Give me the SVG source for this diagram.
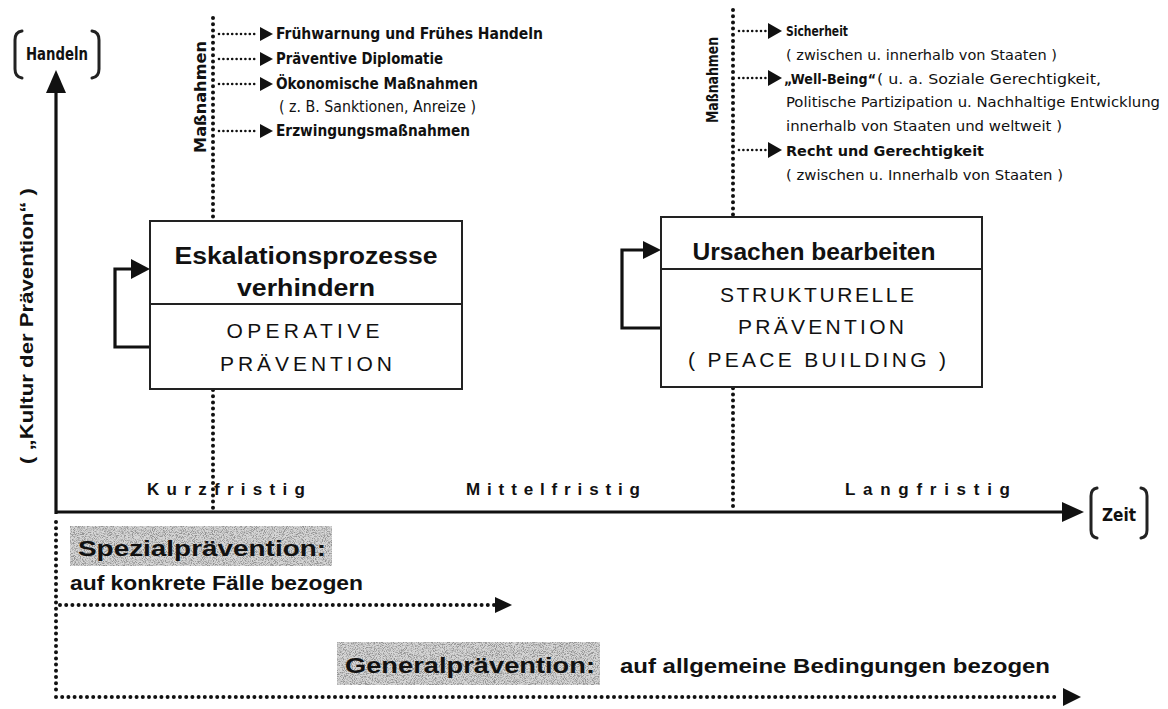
<svg xmlns="http://www.w3.org/2000/svg" width="1168" height="709" viewBox="0 0 1168 709">
<style>
.dot{fill:none;stroke:#111;stroke-width:4;stroke-linecap:round;stroke-dasharray:0 6.2}
.sdot{fill:none;stroke:#111;stroke-width:2.6;stroke-linecap:round;stroke-dasharray:0 4.4}
.solid{fill:none;stroke:#111;stroke-width:3.2}
.head{fill:#111}
.box{fill:#fff;stroke:#222;stroke-width:2}
.cond{font-family:"Liberation Sans Narrow","DejaVu Sans Condensed","Liberation Sans",sans-serif;fill:#111}
.b{font-weight:bold}
.sans{font-family:"Liberation Sans",Arial,sans-serif;fill:#111}
.brk{fill:none;stroke:#222;stroke-width:3;stroke-linecap:round}
</style>
<defs>
<filter id="noise" x="0" y="0" width="100%" height="100%">
<feTurbulence type="fractalNoise" baseFrequency="1.1" numOctaves="2" seed="7" result="t"/>
<feColorMatrix in="t" type="matrix" values="0 0 0 0 0.3  0 0 0 0 0.3  0 0 0 0 0.3  4 0 0 0 -1.7" result="n"/>
<feFlood flood-color="#d6d6d6" result="f"/>
<feComposite in="n" in2="f" operator="over" result="c"/>
<feComposite in="c" in2="SourceGraphic" operator="in"/>
</filter>
</defs>
<rect width="1168" height="709" fill="#fff"/>

<g id="connectors">
<line class="solid" x1="56" y1="514" x2="56" y2="88"/>
<polygon class="head" points="56,70 46,93 66,93"/>
<line class="solid" x1="55" y1="512" x2="1064" y2="512"/>
<polygon class="head" points="1084,512 1062,502 1062,522"/>
<line class="dot" x1="213" y1="18" x2="213" y2="512"/>
<line class="dot" x1="733" y1="10" x2="733" y2="512"/>
<line class="sdot" x1="219" y1="34" x2="258" y2="34"/><polygon class="head" points="273,34 260,27 260,41"/>
<line class="sdot" x1="219" y1="59" x2="258" y2="59"/><polygon class="head" points="273,59 260,52 260,66"/>
<line class="sdot" x1="219" y1="84" x2="258" y2="84"/><polygon class="head" points="273,84 260,77 260,91"/>
<line class="sdot" x1="219" y1="131" x2="258" y2="131"/><polygon class="head" points="273,131 260,124 260,138"/>
<line class="sdot" x1="739" y1="31" x2="766" y2="31"/><polygon class="head" points="782,31 768,23 768,39"/>
<line class="sdot" x1="739" y1="78" x2="766" y2="78"/><polygon class="head" points="782,78 768,70 768,86"/>
<line class="sdot" x1="739" y1="150" x2="766" y2="150"/><polygon class="head" points="782,150 768,142 768,158"/>
<path class="solid" d="M150,347 H115 V269 H133"/>
<polygon class="head" points="150,269 131,259 131,279"/>
<path class="solid" d="M661,328 H622 V250 H644"/>
<polygon class="head" points="661,250 643,241 643,259"/>
<line class="dot" x1="56" y1="522" x2="56" y2="690"/>
<line class="dot" x1="60" y1="605" x2="494" y2="605"/>
<polygon class="head" points="512,605 495,597 495,613"/>
<line class="dot" x1="56" y1="697" x2="1060" y2="697"/>
<polygon class="head" points="1081,697 1063,688 1063,706"/>
</g>

<g id="axis-y-label">
<path class="brk" d="M22,31 Q15,32 15,40 V69 Q15,77 22,78"/>
<path class="brk" d="M92,31 Q99,32 99,40 V69 Q99,77 92,78"/>
<text class="cond b" x="57" y="60" font-size="17" text-anchor="middle" textLength="62" lengthAdjust="spacingAndGlyphs">Handeln</text>
<text class="sans b" font-size="19" text-anchor="middle" transform="translate(33,326) rotate(-90)" textLength="276" lengthAdjust="spacingAndGlyphs">( „Kultur der Prävention“ )</text>
</g>

<g id="axis-x-label">
<path class="brk" d="M1097,488 Q1091,489 1091,496 V530 Q1091,537 1097,538"/>
<path class="brk" d="M1141,488 Q1147,489 1147,496 V530 Q1147,537 1141,538"/>
<text class="cond b" x="1119" y="521" font-size="17" text-anchor="middle" textLength="34" lengthAdjust="spacingAndGlyphs">Zeit</text>
<text class="sans b" x="147" y="495" font-size="17" textLength="158" lengthAdjust="spacing">Kurzfristig</text>
<text class="sans b" x="466" y="495" font-size="17" textLength="174" lengthAdjust="spacing">Mittelfristig</text>
<text class="sans b" x="845" y="495" font-size="17" textLength="165" lengthAdjust="spacing">Langfristig</text>
</g>

<g id="massnahmen-kurz">
<text class="cond b" font-size="15" text-anchor="middle" transform="translate(206,97) rotate(-90)" textLength="112" lengthAdjust="spacingAndGlyphs">Maßnahmen</text>
<text class="cond b" x="276" y="39" font-size="15" textLength="267" lengthAdjust="spacingAndGlyphs">Frühwarnung und Frühes Handeln</text>
<text class="cond b" x="276" y="64" font-size="15" textLength="167" lengthAdjust="spacingAndGlyphs">Präventive Diplomatie</text>
<text class="cond b" x="276" y="89" font-size="15" textLength="202" lengthAdjust="spacingAndGlyphs">Ökonomische Maßnahmen</text>
<text class="cond" x="279" y="112" font-size="15" textLength="197" lengthAdjust="spacingAndGlyphs">( z. B. Sanktionen, Anreize )</text>
<text class="cond b" x="276" y="136" font-size="15" textLength="194" lengthAdjust="spacingAndGlyphs">Erzwingungsmaßnahmen</text>
</g>

<g id="massnahmen-lang">
<text class="cond b" font-size="15" text-anchor="middle" transform="translate(718,80) rotate(-90)" textLength="86" lengthAdjust="spacingAndGlyphs">Maßnahmen</text>
<text class="cond b" x="786" y="36" font-size="14.5" textLength="62" lengthAdjust="spacingAndGlyphs">Sicherheit</text>
<text class="cond" x="786" y="60" font-size="14.5" textLength="271" lengthAdjust="spacingAndGlyphs">( zwischen u. innerhalb von Staaten )</text>
<text class="cond b" x="784" y="84" font-size="14.5" textLength="92" lengthAdjust="spacingAndGlyphs">„Well-Being“</text>
<text class="cond" x="877" y="84" font-size="14.5" textLength="224" lengthAdjust="spacingAndGlyphs">( u. a. Soziale Gerechtigkeit,</text>
<text class="cond" x="786" y="107" font-size="14.5" textLength="374" lengthAdjust="spacingAndGlyphs">Politische Partizipation u. Nachhaltige Entwicklung</text>
<text class="cond" x="786" y="131" font-size="14.5" textLength="276" lengthAdjust="spacingAndGlyphs">innerhalb von Staaten und weltweit )</text>
<text class="cond b" x="786" y="156" font-size="14.5" textLength="198" lengthAdjust="spacingAndGlyphs">Recht und Gerechtigkeit</text>
<text class="cond" x="786" y="180" font-size="14.5" textLength="277" lengthAdjust="spacingAndGlyphs">( zwischen u. Innerhalb von Staaten )</text>
</g>

<g id="operative">
<rect class="box" x="150" y="221" width="312" height="168"/>
<line x1="150" y1="304" x2="462" y2="304" stroke="#222" stroke-width="2"/>
<text class="sans b" x="306" y="264" font-size="24" text-anchor="middle" textLength="263" lengthAdjust="spacingAndGlyphs">Eskalationsprozesse</text>
<text class="sans b" x="306" y="296" font-size="24" text-anchor="middle" textLength="138" lengthAdjust="spacingAndGlyphs">verhindern</text>
<text class="sans" x="303" y="338" font-size="21" text-anchor="middle" textLength="153" lengthAdjust="spacing">OPERATIVE</text>
<text class="sans" x="306" y="371" font-size="21" text-anchor="middle" textLength="172" lengthAdjust="spacing">PRÄVENTION</text>
</g>

<g id="strukturelle">
<rect class="box" x="661" y="217" width="321" height="170"/>
<line x1="661" y1="269" x2="982" y2="269" stroke="#222" stroke-width="2"/>
<text class="sans b" x="814" y="260" font-size="23" text-anchor="middle" textLength="243" lengthAdjust="spacingAndGlyphs">Ursachen bearbeiten</text>
<text class="sans" x="817" y="302" font-size="21" text-anchor="middle" textLength="194" lengthAdjust="spacing">STRUKTURELLE</text>
<text class="sans" x="821" y="334" font-size="21" text-anchor="middle" textLength="166" lengthAdjust="spacing">PRÄVENTION</text>
<text class="sans" x="817" y="367" font-size="21" text-anchor="middle" textLength="258" lengthAdjust="spacing">( PEACE BUILDING )</text>
</g>

<g id="spezial">
<rect x="70" y="526" width="262" height="40" fill="#ccc" filter="url(#noise)"/>
<text class="sans b" x="78" y="556" font-size="22" textLength="248" lengthAdjust="spacingAndGlyphs">Spezialprävention:</text>
<text class="sans b" x="70" y="590" font-size="20" textLength="293" lengthAdjust="spacingAndGlyphs">auf konkrete Fälle bezogen</text>
</g>

<g id="general">
<rect x="337" y="642" width="263" height="43" fill="#ccc" filter="url(#noise)"/>
<text class="sans b" x="345" y="673" font-size="22" textLength="250" lengthAdjust="spacingAndGlyphs">Generalprävention:</text>
<text class="sans b" x="620" y="673" font-size="20" textLength="430" lengthAdjust="spacingAndGlyphs">auf allgemeine Bedingungen bezogen</text>
</g>
</svg>
